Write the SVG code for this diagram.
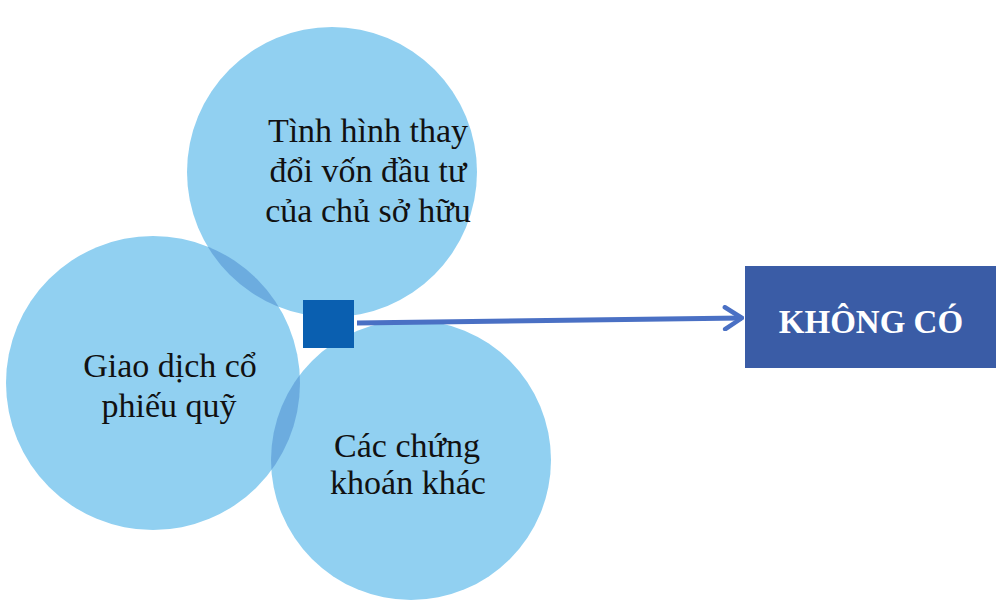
<svg xmlns="http://www.w3.org/2000/svg" width="996" height="602" viewBox="0 0 996 602">
  <style>
    .c { fill: #91d0f1; }
    .ov { fill: #6cacdf; }
    .t { font-family: "Liberation Serif", "Times New Roman", serif; font-size: 34px; fill: #111; text-anchor: middle; }
    .b { font-family: "Liberation Serif", "Times New Roman", serif; font-size: 33px; font-weight: bold; fill: #ffffff; text-anchor: middle; }
  </style>
  <defs>
    <clipPath id="clipLeft"><circle cx="153" cy="383" r="147"/></clipPath>
    <marker id="chev" viewBox="0 0 22 26" refX="20" refY="13" markerWidth="22" markerHeight="26" markerUnits="userSpaceOnUse" orient="auto">
      <path d="M3,2 L20,13 L3,24" fill="none" stroke="#4a70c4" stroke-width="4.5" stroke-linecap="round" stroke-linejoin="round"/>
    </marker>
  </defs>
  <rect width="996" height="602" fill="#ffffff"/>
  <g id="node-top">
    <circle class="c" cx="332" cy="172" r="145"/>
    <text class="t" x="368" y="142">Tình hình thay</text>
    <text class="t" x="368" y="182">đổi vốn đầu tư</text>
    <text class="t" x="368" y="222">của chủ sở hữu</text>
  </g>
  <g id="node-bottom">
    <circle class="c" cx="411" cy="460" r="140"/>
    <text class="t" x="407" y="457">Các chứng</text>
    <text class="t" x="408" y="494">khoán khác</text>
  </g>
  <g id="node-left">
    <circle class="c" cx="153" cy="383" r="147"/>
    <circle class="ov" cx="332" cy="172" r="145" clip-path="url(#clipLeft)"/>
    <circle class="ov" cx="411" cy="460" r="140" clip-path="url(#clipLeft)"/>
    <text class="t" x="170" y="377">Giao dịch cổ</text>
    <text class="t" x="169" y="417">phiếu quỹ</text>
  </g>
  <g id="node-center">
    <rect x="303" y="300" width="51" height="48" fill="#0a5fb0"/>
  </g>
  <g id="node-result">
    <rect x="745" y="266" width="260" height="102" fill="#3a5ca6"/>
    <text class="b" x="871" y="333">KHÔNG CÓ</text>
  </g>
  <g id="connectors">
    <line x1="357" y1="323" x2="742" y2="318" stroke="#4a70c4" stroke-width="5" marker-end="url(#chev)"/>
  </g>
</svg>
